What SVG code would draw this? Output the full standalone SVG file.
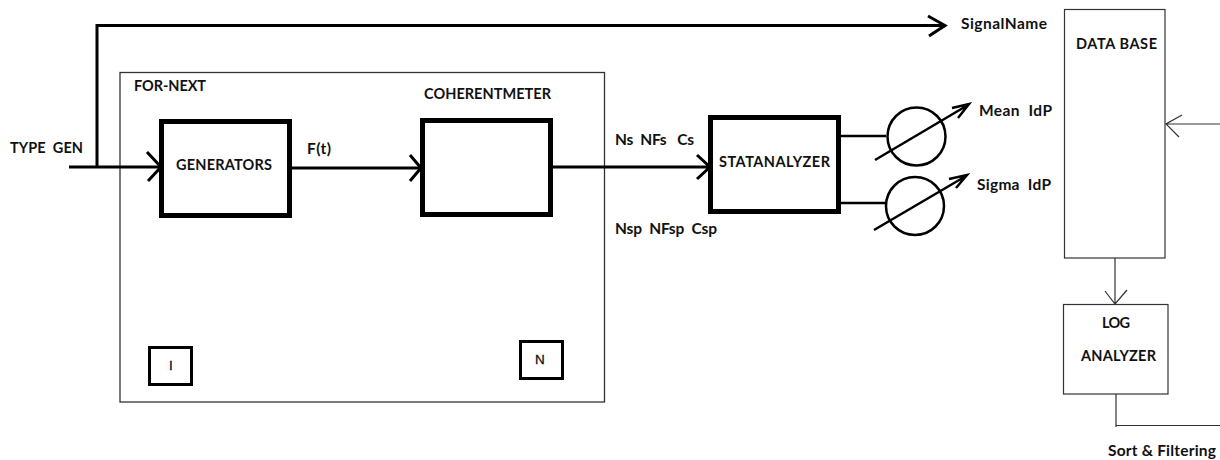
<svg xmlns="http://www.w3.org/2000/svg" width="1220" height="460" viewBox="0 0 1220 460">
<style>
text{font-family:Lato,"Open Sans",sans-serif;font-weight:700;font-size:14.5px;fill:#111;white-space:pre}
.mix{font-size:15.5px}
.key{font-family:"Liberation Sans",sans-serif;font-weight:400;font-size:13.5px;stroke:#111;stroke-width:.3}
.box{fill:#fff;stroke:#000;stroke-width:5}
.small{fill:#fff;stroke:#000;stroke-width:3}
.thin{fill:#fff;stroke:#333;stroke-width:1.2}
.wire{fill:none;stroke:#000;stroke-width:3}
.wire2{fill:none;stroke:#000;stroke-width:2.6}
.fine{fill:none;stroke:#333;stroke-width:1.2}
.gauge{fill:none;stroke:#000;stroke-width:2.5}
</style>
<rect width="1220" height="460" fill="#fff"/>
<g id="for-next"><rect x="120" y="72.500" width="484.500" height="329.500" fill="#fff" stroke="#333" stroke-width="1.300"/><text x="134" y="91" textLength="72">FOR-NEXT</text></g>
<g id="connectors">
<path class="wire" d="M69 167H161M97 167V25.500H945"/>
<path class="wire" d="M147 152L161 167L148 181"/>
<path class="wire" d="M928 16L945 25.500L929 36"/>
<path class="wire" d="M291 168H420M410 155L421 168L410 181"/>
<path class="wire" d="M552 167H709M697 155L710 167L697 179"/>
<path class="wire2" d="M840 136H886M840 203H885"/>
<path class="fine" d="M1220 124H1166M1182 115L1166 124L1179 137"/>
<path class="fine" d="M1115 258V304M1105 291L1115 304L1127 290"/>
<path class="fine" d="M1116 394V427M1116 425.500H1220"/>
</g>
<g id="generators"><rect class="box" x="161.500" y="121.500" width="128" height="94"/><text x="176" y="170" textLength="96">GENERATORS</text></g>
<g id="coherentmeter"><rect class="box" x="422.500" y="120.500" width="128" height="94"/><text x="424" y="99" textLength="127">COHERENTMETER</text></g>
<g id="statanalyzer"><rect class="box" x="710.500" y="117.500" width="128" height="94"/><text x="719" y="167" textLength="111">STATANALYZER</text></g>
<g id="mean-gauge"><circle class="gauge" cx="916.500" cy="136.500" r="29"/><path class="gauge" d="M875 160L968 105M952 108L969 104L958 118"/></g>
<g id="sigma-gauge"><circle class="gauge" cx="915" cy="206" r="29"/><path class="gauge" d="M874 230L966 176M949 179L967 175L956 188"/></g>
<g id="data-base"><rect class="thin" x="1064.500" y="9.500" width="100.500" height="248.500"/><text x="1076" y="49" textLength="81">DATA BASE</text></g>
<g id="log-analyzer"><rect class="thin" x="1063.500" y="304.500" width="104.500" height="89.500"/><text x="1102" y="328" textLength="28">LOG</text><text x="1081" y="361" textLength="75">ANALYZER</text></g>
<g id="i-box"><rect class="small" x="149.500" y="347.500" width="42" height="37"/><text class="key" x="169" y="370">I</text></g>
<g id="n-box"><rect class="small" x="520.500" y="341.500" width="42" height="37"/><text class="key" x="535" y="364">N</text></g>
<g id="labels">
<text x="10" y="153" textLength="73">TYPE  GEN</text>
<text class="mix" x="307" y="154" textLength="24">F(t)</text>
<text class="mix" x="615" y="145" textLength="79">Ns  NFs   Cs</text>
<text class="mix" x="615" y="234" textLength="102">Nsp  NFsp  Csp</text>
<text class="mix" x="961" y="29" textLength="86">SignalName</text>
<text class="mix" x="979" y="116" textLength="73">Mean  IdP</text>
<text class="mix" x="977" y="190" textLength="74">Sigma  IdP</text>
<text class="mix" x="1108" y="456" textLength="108">Sort &amp; Filtering</text>
</g>
</svg>
